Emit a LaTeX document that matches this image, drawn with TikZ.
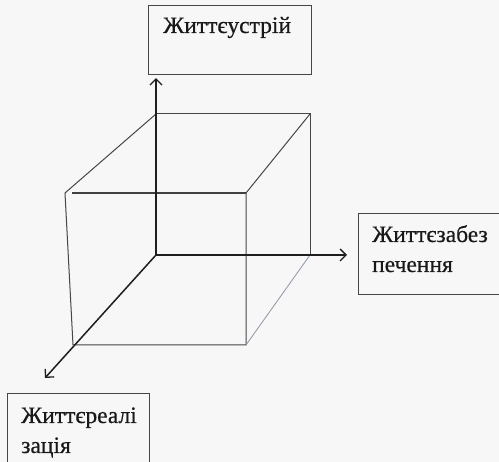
\documentclass[tikz,border=0pt]{standalone}
\usepackage{fontspec}
\setmainfont{Liberation Serif}
\newfontfamily\lblfont[FakeBold=0.5]{Liberation Serif}
\usetikzlibrary{arrows.meta}
\definecolor{bg}{RGB}{247,247,247}
\definecolor{edge}{RGB}{70,70,70}
\definecolor{axis}{RGB}{30,30,30}
\definecolor{faint}{RGB}{140,150,165}
\tikzset{
  labelbox/.style={draw=edge, line width=1.1pt, rectangle, inner sep=0pt, anchor=north west},
  labeltext/.style={anchor=base west, inner sep=0pt, font=\lblfont\fontsize{23.5}{30}\selectfont, text=black!90},
  cubeedge/.style={draw=edge, line width=1pt},
  axisline/.style={draw=axis, line width=1.5pt, -{Straight Barb[length=6pt,width=12pt,line width=1.3pt]}}
}
\begin{document}
\begin{tikzpicture}[x=1pt,y=-1pt]
\fill[bg] (0,0) rectangle (499,462);
\useasboundingbox (0,0) rectangle (499,462);
% label boxes
\node[labelbox, minimum width=163pt, minimum height=69pt] (top) at (148,5) {};
\node[labelbox, minimum width=141pt, minimum height=81pt] (right) at (358,213) {};
\node[labelbox, minimum width=142pt, minimum height=80pt] (left) at (7,393) {};
\node[labeltext] (toptext) at (163,33) {Життєустрій};
\node[labeltext] (righttext1) at (372,242) {Життєзабез};
\node[labeltext] (righttext2) at (372,272) {печення};
\node[labeltext] (lefttext1) at (21,423) {Життєреалі};
\node[labeltext] (lefttext2) at (21,453) {зація};
% cube vertices
\coordinate (O) at (156,255);
\coordinate (BTL) at (156,114);
\coordinate (BTR) at (310,114);
\coordinate (BBR) at (310,255);
\coordinate (FTL) at (65,193);
\coordinate (FTLs) at (72,193);
\coordinate (FTR) at (246,193);
\coordinate (FBR) at (246,345);
\coordinate (FBL) at (73,345);
\coordinate (Dtip) at (45,378);
% cube edges
\draw[cubeedge] (BTL) -- (BTR) -- (BBR);
\draw[cubeedge] (BTL) -- (FTL) -- (FBL) -- (FBR) -- (FTR) -- (BTR);
\draw[draw=axis!85, line width=1.2pt] (FTLs) -- (FTR);
\draw[draw=faint, line width=0.8pt] (FBR) -- (BBR);
% axes
\draw[axisline] (O) -- ([yshift=-3pt]top.south -| O);
\draw[axisline] (O) -- ([xshift=-11pt]right.west |- O);
\draw[axisline] (O) -- (Dtip);
\end{tikzpicture}
\end{document}
